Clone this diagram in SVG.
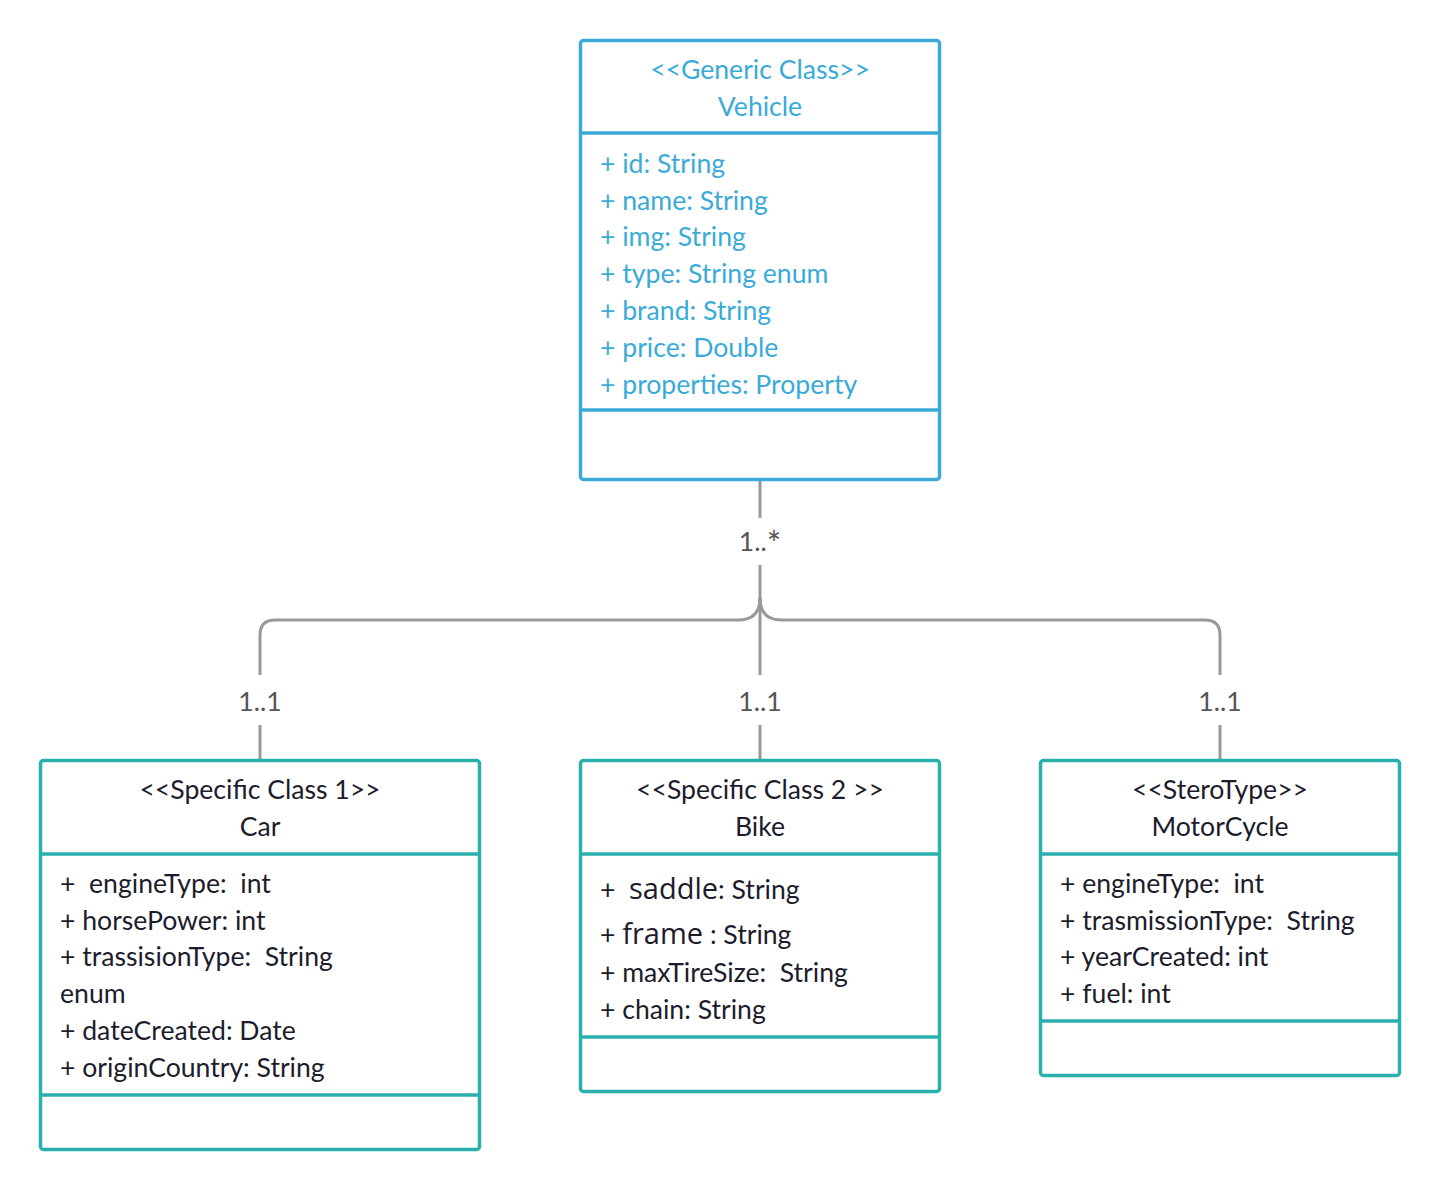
<svg xmlns="http://www.w3.org/2000/svg" width="1440" height="1190" viewBox="0 0 1440 1190">
<style>
text{font-family:Lato,"Open Sans","Liberation Sans",sans-serif;font-size:26.6px}
.box{fill:#fff;stroke-width:3.5}
.blue{stroke:#3aabd8}
.teal{stroke:#2ab0ac}
.div{stroke-width:3.5}
.bt{fill:#3aabd8}
.dt{fill:#1c1c2c}
.c{text-anchor:middle}
.conn{fill:none;stroke:#999;stroke-width:3}
.lbl{fill:#555;text-anchor:middle}
.big{font-family:"Open Sans","Noto Sans",sans-serif;font-size:29px}
</style>
<rect width="1440" height="1190" fill="#fff"/>
<g id="connectors">
<path class="conn" d="M760 480 V518"/>
<path class="conn" d="M760 565 V675"/>
<path class="conn" d="M760 598 Q760 620 738 620 H275 Q260 620 260 635 V675"/>
<path class="conn" d="M760 598 Q760 620 782 620 H1205 Q1220 620 1220 635 V675"/>
<path class="conn" d="M260 725 V760"/>
<path class="conn" d="M760 725 V760"/>
<path class="conn" d="M1220 725 V760"/>
<text class="lbl" x="760" y="551">1..<tspan font-size="34" dy="5">*</tspan></text>
<text class="lbl" x="260" y="711">1..1</text>
<text class="lbl" x="760" y="711">1..1</text>
<text class="lbl" x="1220" y="711">1..1</text>
</g>
<g id="vehicle">
<rect class="box blue" x="580.5" y="40.5" width="359" height="439" rx="3"/>
<line class="blue div" x1="580" y1="133" x2="940" y2="133"/>
<line class="blue div" x1="580" y1="410" x2="940" y2="410"/>
<text class="bt c" x="760" y="79">&lt;&lt;Generic Class&gt;&gt;</text>
<text class="bt c" x="760" y="116">Vehicle</text>
<text class="bt" x="600" y="173">+ id: String</text>
<text class="bt" x="600" y="210">+ name: String</text>
<text class="bt" x="600" y="246">+ img: String</text>
<text class="bt" x="600" y="283">+ type: String enum</text>
<text class="bt" x="600" y="320">+ brand: String</text>
<text class="bt" x="600" y="357">+ price: Double</text>
<text class="bt" x="600" y="394">+ properties: Property</text>
</g>
<g id="car">
<rect class="box teal" x="40.5" y="760.5" width="439" height="389" rx="3"/>
<line class="teal div" x1="40" y1="854" x2="480" y2="854"/>
<line class="teal div" x1="40" y1="1095" x2="480" y2="1095"/>
<text class="dt c" x="260" y="799">&lt;&lt;Specific Class 1&gt;&gt;</text>
<text class="dt c" x="260" y="836">Car</text>
<text class="dt" x="60" y="893" xml:space="preserve">+  engineType:  int</text>
<text class="dt" x="60" y="930">+ horsePower: int</text>
<text class="dt" x="60" y="966" xml:space="preserve">+ trassisionType:  String</text>
<text class="dt" x="60" y="1003">enum</text>
<text class="dt" x="60" y="1040">+ dateCreated: Date</text>
<text class="dt" x="60" y="1077">+ originCountry: String</text>
</g>
<g id="bike">
<rect class="box teal" x="580.5" y="760.5" width="359" height="331" rx="3"/>
<line class="teal div" x1="580" y1="854" x2="940" y2="854"/>
<line class="teal div" x1="580" y1="1037" x2="940" y2="1037"/>
<text class="dt c" x="760" y="799">&lt;&lt;Specific Class 2 &gt;&gt;</text>
<text class="dt c" x="760" y="836">Bike</text>
<text class="dt" x="600" y="899" xml:space="preserve">+  <tspan class="big">saddle</tspan>: String</text>
<text class="dt" x="600" y="944">+ <tspan class="big">frame</tspan> : String</text>
<text class="dt" x="600" y="982" xml:space="preserve">+ maxTireSize:  String</text>
<text class="dt" x="600" y="1019">+ chain: String</text>
</g>
<g id="motorcycle">
<rect class="box teal" x="1040.5" y="760.5" width="359" height="315" rx="3"/>
<line class="teal div" x1="1040" y1="854" x2="1400" y2="854"/>
<line class="teal div" x1="1040" y1="1021" x2="1400" y2="1021"/>
<text class="dt c" x="1220" y="799">&lt;&lt;SteroType&gt;&gt;</text>
<text class="dt c" x="1220" y="836">MotorCycle</text>
<text class="dt" x="1060" y="893" xml:space="preserve">+ engineType:  int</text>
<text class="dt" x="1060" y="930" xml:space="preserve">+ trasmissionType:  String</text>
<text class="dt" x="1060" y="966">+ yearCreated: int</text>
<text class="dt" x="1060" y="1003">+ fuel: int</text>
</g>
</svg>
